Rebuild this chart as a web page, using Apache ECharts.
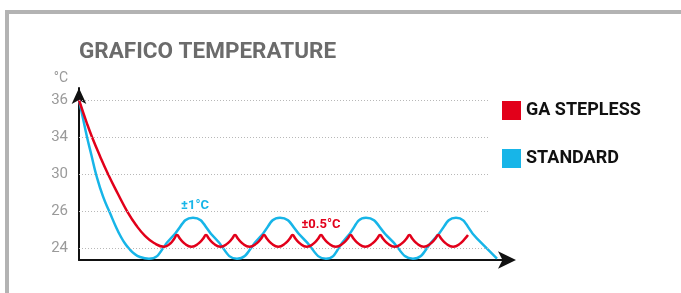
<!DOCTYPE html>
<html>
<head>
<meta charset="utf-8">
<script src="https://cdn.jsdelivr.net/npm/echarts@6/dist/echarts.min.js"></script>
<style>
  html, body { margin: 0; padding: 0; background: #fff; }
  #chart { width: 681px; height: 293px; }
</style>
</head>
<body>
<div id="chart"></div>
<script>
// asse y "a livelli": ogni riga di griglia = 1 livello (24,26,30,34,36)
var tempLabels = ['24', '26', '30', '34', '36'];
var gridLevels = [1, 2, 3, 4, 5];

// STANDARD (oscillazione ±1°C)
var stdX = [0, 1, 2, 3.125, 4.25, 6, 7.75, 9.25, 10.5, 11.5, 12.5, 13.75, 15.25, 17.5,
  23, 28.5, 34, 39.5, 45, 50.25, 56, 61.75, 66.75, 71.75, 77.6, 83.5, 89, 94.25, 99.4, 104.5];
var stdY = [5, 4.5, 4, 3.5, 3, 2.395, 1.946, 1.568, 1.297, 1.122, 0.986, 0.851, 0.757, 0.71,
  1.265, 1.82, 1.265, 0.71, 1.265, 1.82, 1.265, 0.71, 1.265, 1.82, 1.265, 0.71, 1.265, 1.82, 1.265, 0.71];

// GA STEPLESS (oscillazione ±0.5°C)
var gaX = [0, 2, 3.25, 5.25, 7.25, 9.75, 12, 14.25, 16.5, 18.75, 21.25, 22.9, 23.8, 24.5,
  25.23, 26.31, 28.13, 29.94, 31.03, 31.75,
  32.48, 33.56, 35.38, 37.19, 38.28, 39,
  39.73, 40.81, 42.63, 44.44, 45.53, 46.25,
  46.97, 48.04, 49.83, 51.61, 52.69, 53.4,
  54.11, 55.18, 56.95, 58.73, 59.79, 60.5,
  61.24, 62.35, 64.2, 66.05, 67.16, 67.9,
  68.64, 69.74, 71.58, 73.41, 74.52, 75.25,
  75.99, 77.09, 78.93, 80.76, 81.87, 82.6,
  83.32, 84.4, 86.2, 88.0, 89.08, 89.8,
  90.55, 91.66, 93.53, 95.39, 96.5, 97.25];
var gaY = [5, 4.362, 4, 3.481, 3, 2.459, 2, 1.622, 1.33, 1.135, 1.035, 1.127, 1.252, 1.35,
  1.252, 1.127, 1.035, 1.127, 1.252, 1.35,
  1.252, 1.127, 1.035, 1.127, 1.252, 1.35,
  1.252, 1.127, 1.035, 1.127, 1.252, 1.35,
  1.252, 1.127, 1.035, 1.127, 1.252, 1.35,
  1.252, 1.127, 1.035, 1.127, 1.252, 1.35,
  1.252, 1.127, 1.035, 1.127, 1.252, 1.35,
  1.252, 1.127, 1.035, 1.127, 1.252, 1.35,
  1.252, 1.127, 1.035, 1.127, 1.252, 1.35,
  1.252, 1.127, 1.035, 1.127, 1.252, 1.35,
  1.252, 1.127, 1.035, 1.127, 1.252, 1.35];

var gridEndX = 102.25;

function zip(xs, ys) {
  var out = [];
  for (var i = 0; i < xs.length; i++) out.push([xs[i], ys[i]]);
  return out;
}

var RED = '#e2001a';
var BLUE = '#17b5e8';

var chart = echarts.init(document.getElementById('chart'));

var option = {
  animation: false,
  textStyle: { fontFamily: 'Roboto' },
  graphic: [
    { type: 'rect', shape: { x: 5, y: 10, width: 676, height: 4 }, style: { fill: '#b3b3b3' } },
    { type: 'rect', shape: { x: 5, y: 10, width: 4, height: 283 }, style: { fill: '#b3b3b3' } }
  ],
  title: {
    text: 'GRAFICO TEMPERATURE',
    left: 74,
    top: 36,
    textStyle: { fontFamily: 'Roboto', fontWeight: 'bold', fontSize: 22.5, color: '#6b6b6b' }
  },
  legend: {
    data: ['GA STEPLESS', 'STANDARD'],
    orient: 'vertical',
    left: 497,
    top: 96,
    icon: 'rect',
    itemWidth: 19,
    itemHeight: 19,
    itemGap: 29,
    textStyle: { fontFamily: 'Roboto', fontWeight: 'bold', fontSize: 18, color: '#111' }
  },
  grid: { left: 79, right: 174, top: 88, bottom: 33 },
  xAxis: {
    type: 'value',
    min: 0,
    max: 107,
    axisLine: { show: true, symbol: ['none', 'arrow'], symbolSize: [13, 18], symbolOffset: [0, 9], lineStyle: { color: '#111', width: 2 } },
    axisTick: { show: false },
    axisLabel: { show: false },
    splitLine: { show: false }
  },
  yAxis: {
    type: 'value',
    min: 0.676,
    max: 5.324,
    name: '°C',
    nameLocation: 'end',
    nameGap: 10,
    nameTextStyle: { color: '#9a9a9a', fontSize: 14, align: 'right', verticalAlign: 'middle', padding: [0, 11, 0, 0] },
    axisLine: { show: true, onZero: false, symbol: ['none', 'arrow'], symbolSize: [11, 16], lineStyle: { color: '#111', width: 2 } },
    axisTick: { show: false },
    axisLabel: {
      customValues: gridLevels,
      margin: 11,
      color: '#9a9a9a',
      fontSize: 15,
      formatter: function (v) { return tempLabels[Math.round(v) - 1]; }
    },
    splitLine: { show: false }
  },
  series: [
    {
      name: 'grid',
      type: 'line',
      data: [],
      silent: true,
      z: 1,
      markLine: {
        silent: true,
        symbol: 'none',
        label: { show: false },
        lineStyle: { color: '#b8b8b8', width: 1, type: [1, 2] },
        data: gridLevels.map(function (l) {
          return [{ coord: [0, l] }, { coord: [gridEndX, l] }];
        })
      }
    },
    {
      name: 'STANDARD',
      type: 'line',
      data: zip(stdX, stdY),
      smooth: 0.5,
      showSymbol: false,
      z: 2,
      itemStyle: { color: BLUE },
      lineStyle: { color: BLUE, width: 2.5 },
      markPoint: {
        symbol: 'circle',
        symbolSize: 0,
        label: { show: true, position: 'inside', color: BLUE, fontWeight: 'bold', fontSize: 13, formatter: '±1°C' },
        data: [{ coord: [29, 2.13] }]
      }
    },
    {
      name: 'GA STEPLESS',
      type: 'line',
      data: zip(gaX, gaY),
      smooth: 0.5,
      showSymbol: false,
      z: 3,
      itemStyle: { color: RED },
      lineStyle: { color: RED, width: 2.5 },
      markPoint: {
        symbol: 'circle',
        symbolSize: 0,
        label: { show: true, position: 'inside', color: RED, fontWeight: 'bold', fontSize: 13, formatter: '±0.5°C' },
        data: [{ coord: [60.5, 1.62] }]
      }
    }
  ]
};

chart.setOption(option);
</script>
</body>
</html>
